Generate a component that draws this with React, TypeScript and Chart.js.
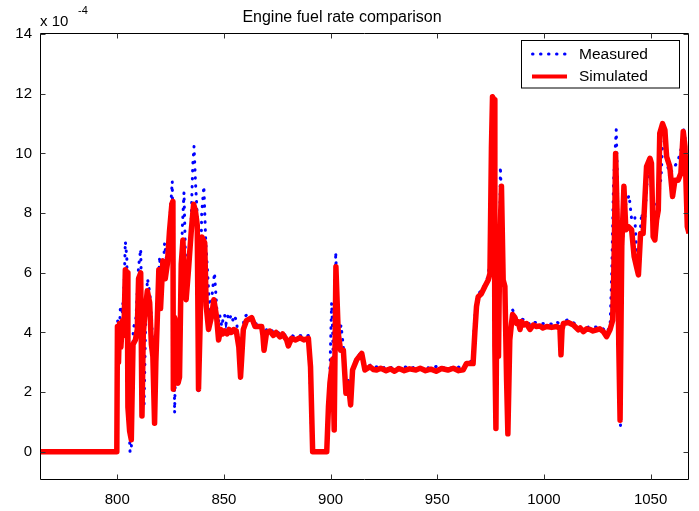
import React, { useEffect, useRef } from "react";
import { Chart, registerables } from "chart.js";

Chart.register(...registerables);

const chartTitle = "Engine fuel rate comparison";
const seriesNames = ["Measured", "Simulated"];
const yExponent = "-4";
const xTicks = [800, 850, 900, 950, 1000, 1050];
const yTicks = [0, 2, 4, 6, 8, 10, 12, 14];
const xRange = [763.8, 1068];
const yRange = [-0.93, 14.05];

// time (s) and fuel rate (x 10^-4) of the measured signal
const measTime = [
  764, 799.8, 800.2, 800.8, 801.5, 802.3, 803.2, 803.8, 804.5, 805.0, 806.0, 806.6, 807.5, 808.8, 810.0,
  811.0, 811.8, 812.6, 813.5, 814.2, 815.3, 816.2, 817.5, 818.3, 819.2, 819.9, 820.6, 821.5, 822.2, 823.5,
  824.5, 825.8, 826.3, 826.9, 827.7, 828.8, 829.5, 830.5, 831.3, 832.0, 833.0, 834.5, 835.4, 836.0, 836.7,
  837.6, 838.1, 838.9, 839.6, 840.6, 841.5, 842.3, 843.5, 844.8, 845.6, 846.3, 847.2, 848.0, 849.0, 849.5,
  850.3, 851.0, 851.8, 852.5, 853.4, 854.5, 855.3, 856.0, 857.2, 857.8, 858.5, 859.4, 860.8, 862.7, 864.6,
  867.7, 868.6, 870.0, 871.5, 873.2, 874.5, 876.3, 877.5, 879.4, 880.2, 881.7, 883.5, 885.7, 887.5, 889.6,
  890.6, 891.2, 898.5, 899.2, 899.8, 900.5, 901.0, 901.6, 902.4, 903.2, 904.0, 904.9, 906.0, 907.2, 908.3,
  909.4, 910.3, 912.2, 914.6, 916.1, 918.5, 920.0, 921.6, 923.5, 926, 928, 930, 932, 934.5, 937,
  940, 942, 944.5, 947, 949.5, 952, 955, 957.5, 960, 962.2, 963.7, 966.8, 967.3, 968.2, 969.2,
  970.7, 972.3, 973.9, 974.6, 975.2, 975.6, 976.4, 976.9, 977.4, 978.0, 978.8, 979.6, 980.3, 980.9, 981.7,
  982.6, 983.3, 984.0, 984.8, 985.3, 986.4, 987.2, 988.8, 989.5, 991.9, 993.5, 995.0, 998.1, 1001.3, 1003.6,
  1006.0, 1007.5, 1008.0, 1008.5, 1009.1, 1011.4, 1013.8, 1016.1, 1018.5, 1021.6, 1024.7, 1027.8, 1029.4, 1031.0, 1031.8,
  1032.6, 1033.9, 1034.5, 1035.1, 1035.9, 1036.6, 1037.5, 1038.4, 1039.9, 1041.1, 1042.6, 1043.5, 1044.5, 1045.8, 1047.0,
  1048.3, 1049.7, 1050.6, 1051.2, 1052.3, 1052.8, 1053.6, 1054.9, 1055.6, 1057.0, 1057.5, 1059.0, 1060.3, 1061.6, 1063.0,
  1064.6, 1065.3, 1066.1, 1067.2, 1068,
];
const measValue = [
  0, 0, 4.4, 3.5, 4.9, 4.6, 5.5, 7.05, 6.5, 2.0, 0, 0, 4.1, 4.5, 6.2,
  6.8, 3.5, 1.6, 5.0, 5.8, 5.3, 4.3, 1.8, 3.5, 5.5, 6.55, 5.2, 6.0, 7.0, 6.2,
  7.6, 9.07, 6.0, 1.3, 4.3, 2.6, 4.0, 7.5, 8.7, 6.5, 6.0, 7.4, 9.6, 10.24, 9.0,
  7.8, 2.0, 5.0, 8.0, 8.9, 7.0, 6.1, 4.5, 5.5, 6.0, 5.2, 4.2, 4.6, 4.2, 4.4,
  4.6, 4.3, 4.55, 4.4, 4.6, 4.35, 4.5, 4.35, 3.3, 2.8, 3.5, 4.5, 4.6, 4.6, 4.3,
  4.25, 3.6, 4.1, 4.15, 4.0, 4.05, 3.95, 4.0, 3.85, 3.7, 3.9, 3.85, 3.9, 3.85, 3.9,
  2.0, 0, 0, 1.8, 3.0, 5.0, 4.0, 1.5, 6.7, 5.0, 3.8, 4.25, 3.5, 2.0, 2.4,
  1.8, 2.8, 3.15, 3.35, 2.85, 2.9, 2.8, 2.85, 2.78, 2.85, 2.8, 2.88, 2.8, 2.86, 2.78,
  2.85, 2.8, 2.84, 2.79, 2.86, 2.8, 2.85, 2.78, 2.84, 2.8, 3.0, 3.05, 4.2, 5.0, 5.3,
  5.4, 5.6, 5.9, 6.4, 10.0, 11.9, 11.2, 4.0, 1.0, 5.5, 4.0, 9.56, 8.0, 6.0, 5.6,
  3.0, 0.8, 3.8, 4.5, 4.76, 4.6, 4.4, 4.25, 4.45, 4.4, 4.25, 4.35, 4.3, 4.3, 4.28,
  4.37, 4.25, 3.5, 4.2, 4.4, 4.42, 4.33, 4.2, 4.12, 4.2, 4.18, 4.12, 4.0, 4.2, 6.0,
  9.0, 10.8, 9.0, 4.0, 0.84, 6.5, 8.0, 8.3, 8.6, 7.8, 7.9, 6.5, 6.8, 8.0, 7.5,
  9.0, 9.6, 8.5, 7.8, 7.4, 8.3, 8.5, 9.2, 10.3, 10.5, 9.8, 9.2, 9.5, 9.6, 9.8,
  10.23, 10.85, 10.6, 8.0, 7.8,
];

// time (s) and fuel rate (x 10^-4) of the simulated signal
const simTime = [
  764, 799.8, 800.1, 800.6, 801.1, 801.7, 802.5, 803.1, 803.8, 804.7, 805.0, 805.8, 806.6, 807.4, 808.5,
  809.4, 810.0, 811.0, 811.6, 812.2, 812.8, 814.1, 815.2, 816.0, 816.7, 817.5, 818.1, 818.8, 819.5, 820.3,
  821.4, 822.5, 823.5, 824.5, 825.6, 826.1, 826.3, 826.9, 827.7, 828.5, 829.2, 830.0, 830.8, 831.6, 832.3,
  833.4, 834.7, 835.8, 836.6, 837.5, 838.1, 838.8, 839.7, 841.0, 841.7, 842.8, 844.1, 845.3, 846.6, 847.5,
  848.5, 849.4, 850.3, 851.5, 852.4, 853.5, 854.6, 855.8, 857.0, 857.8, 858.3, 859.1, 860.6, 863.0, 864.6,
  867.7, 868.3, 868.8, 870.0, 871.5, 873.2, 874.5, 876.3, 877.5, 879.4, 880.2, 881.7, 883.5, 885.7, 887.5,
  889.6, 890.6, 891.6, 898.2, 899.0, 899.7, 901.0, 901.7, 902.5, 903.6, 904.7, 906.0, 907.2, 908.3, 909.4,
  910.3, 912.2, 914.6, 916.1, 918.5, 920.0, 921.6, 923.5, 926, 928, 930, 932, 934.5, 937, 940,
  942, 944.5, 947, 949.5, 952, 955, 957.5, 960, 962.2, 963.7, 966.8, 967.6, 968.4, 969.2, 970.7,
  972.3, 973.9, 974.7, 975.4, 975.9, 976.7, 977.0, 977.5, 978.1, 978.7, 979.3, 980.1, 980.9, 981.7, 982.5,
  983.1, 984.0, 984.8, 985.3, 986.4, 987.2, 988.0, 988.8, 989.5, 990.5, 991.9, 992.6, 993.5, 995.0, 996.5,
  998.1, 999.5, 1001.3, 1003.6, 1006.0, 1007.5, 1008.0, 1008.5, 1009.1, 1011.4, 1013.8, 1016.1, 1017.0, 1018.5, 1020.0,
  1021.6, 1023.0, 1024.7, 1026.2, 1027.8, 1029.4, 1031.0, 1032.2, 1032.6, 1033.0, 1033.6, 1034.3, 1035.1, 1035.7, 1036.5,
  1037.5, 1038.4, 1039.5, 1041.1, 1042.3, 1043.4, 1044.3, 1045.3, 1046.5, 1048.1, 1049.7, 1050.4, 1051.2, 1052.0, 1052.8,
  1053.6, 1054.3, 1055.6, 1056.7, 1057.5, 1059.0, 1060.3, 1061.4, 1062.9, 1064.2, 1065.3, 1066.1, 1067.2, 1068,
];
const simValue = [
  0, 0, 4.2, 3.0, 4.3, 3.5, 4.4, 3.9, 6.1, 6.0, 1.5, 0.7, 0.4, 3.6, 3.75,
  4.1, 5.8, 6.0, 1.2, 3.9, 4.5, 5.4, 5.0, 3.6, 3.2, 0.96, 3.0, 4.5, 6.1, 4.8,
  6.4, 5.8, 6.3, 7.4, 8.3, 8.4, 2.1, 4.5, 4.2, 2.3, 2.5, 6.3, 7.1, 5.5, 5.1,
  6.1, 7.4, 8.3, 8.1, 7.6, 2.1, 4.1, 7.2, 7.0, 4.9, 4.1, 4.5, 5.1, 4.5, 3.75,
  4.1, 3.95, 4.05, 3.95, 4.1, 4.0, 4.1, 4.05, 3.5, 2.5, 3.1, 4.1, 4.4, 4.5, 4.2,
  4.2, 3.9, 3.4, 4.0, 4.05, 3.9, 4.0, 3.85, 3.95, 3.75, 3.55, 3.8, 3.75, 3.82, 3.75,
  3.8, 2.85, 0, 0, 1.5, 2.3, 3.1, 0.73, 6.2, 3.97, 3.4, 3.4, 1.96, 2.3, 1.57,
  2.74, 3.08, 3.3, 2.74, 2.85, 2.76, 2.74, 2.8, 2.72, 2.78, 2.7, 2.79, 2.72, 2.78, 2.74,
  2.8, 2.72, 2.77, 2.7, 2.79, 2.74, 2.8, 2.72, 2.75, 2.96, 2.96, 3.97, 4.87, 5.2, 5.3,
  5.54, 5.76, 5.98, 10.2, 11.9, 11.8, 3.52, 0.78, 6.9, 3.2, 6.9, 8.9, 5.76, 5.54, 2.4,
  0.6, 3.75, 4.3, 4.6, 4.5, 4.3, 4.35, 4.1, 4.37, 4.25, 4.3, 4.2, 4.1, 4.25, 4.2,
  4.22, 4.15, 4.2, 4.17, 4.2, 4.14, 3.25, 4.1, 4.3, 4.33, 4.25, 4.09, 4.15, 4.03, 4.12,
  4.1, 4.05, 4.09, 4.12, 4.03, 3.86, 4.1, 4.4, 5.5, 6.9, 10.0, 8.0, 3.52, 1.06, 6.9,
  8.9, 7.44, 7.55, 7.44, 6.54, 6.2, 5.93, 7.32, 7.32, 9.56, 9.84, 9.67, 7.21, 7.1, 7.77,
  8.1, 10.68, 11.0, 10.79, 9.9, 9.56, 8.56, 9.1, 9.1, 9.34, 10.74, 10.23, 7.55, 7.32,
];

const FONT = '"Liberation Sans", Arial, Helvetica, sans-serif';
const BLUE = "#0000ff";
const RED = "#ff0000";
const DOTS = [0.5, 7.5];

const framePlugin = {
  id: "matlabFrame",
  afterDatasetsDraw(chart: any) {
    const { ctx, chartArea } = chart;
    const { left, right, top, bottom } = chartArea;
    const xs = chart.scales.x;
    const ys = chart.scales.y;
    ctx.save();
    ctx.strokeStyle = "#000";
    ctx.lineWidth = 1;
    ctx.setLineDash([]);
    ctx.beginPath();
    const L = Math.round(left) + 0.5;
    const R = Math.round(right) - 0.5;
    const T = Math.round(top) + 0.5;
    const B = Math.round(bottom) - 0.5;
    ctx.rect(L, T, R - L, B - T);
    ctx.stroke();
    ctx.strokeStyle = "#333";
    ctx.beginPath();
    for (const v of xTicks) {
      const px = Math.round(xs.getPixelForValue(v)) + 0.5;
      ctx.moveTo(px, B);
      ctx.lineTo(px, B - 5);
      ctx.moveTo(px, T);
      ctx.lineTo(px, T + 5);
    }
    for (const v of yTicks) {
      const py = Math.round(ys.getPixelForValue(v)) + 0.5;
      ctx.moveTo(L, py);
      ctx.lineTo(L + 5, py);
      ctx.moveTo(R, py);
      ctx.lineTo(R - 5, py);
    }
    ctx.stroke();

    // legend
    const bx = 521.5, by = 40.5, bw = 158, bh = 47.5;
    ctx.fillStyle = "#fff";
    ctx.fillRect(bx, by, bw, bh);
    ctx.strokeStyle = "#000";
    ctx.lineWidth = 1;
    ctx.strokeRect(bx, by, bw, bh);
    const rows = [54, 76.5];
    const styles = chart.data.datasets;
    ctx.lineCap = "round";
    ctx.strokeStyle = BLUE;
    ctx.lineWidth = 3;
    ctx.setLineDash(DOTS);
    ctx.beginPath();
    ctx.moveTo(532.5, rows[0]);
    ctx.lineTo(567, rows[0]);
    ctx.stroke();
    ctx.setLineDash([]);
    ctx.lineCap = "butt";
    ctx.strokeStyle = RED;
    ctx.lineWidth = 4;
    ctx.beginPath();
    ctx.moveTo(532, rows[1]);
    ctx.lineTo(567, rows[1]);
    ctx.stroke();
    ctx.fillStyle = "#000";
    ctx.font = "15.5px " + FONT;
    ctx.textAlign = "left";
    ctx.textBaseline = "middle";
    ctx.fillText(styles[0].label, 579, rows[0] + 0.5);
    ctx.fillText(styles[1].label, 579, rows[1] + 0.5);

    // title and exponent
    ctx.textBaseline = "alphabetic";
    ctx.textAlign = "center";
    ctx.font = "16px " + FONT;
    ctx.fillText(chartTitle, 342, 21.7);
    ctx.textAlign = "left";
    ctx.font = "15px " + FONT;
    ctx.fillText("x 10", 40, 26);
    ctx.font = "11px " + FONT;
    ctx.fillText(yExponent, 78, 13.5);
    ctx.restore();
  },
};

export default function App() {
  const ref = useRef<HTMLCanvasElement | null>(null);
  useEffect(() => {
    if (!ref.current) return;
    const measured = measTime.map((t, i) => ({ x: t, y: measValue[i] }));
    const simulated = simTime.map((t, i) => ({ x: t, y: simValue[i] }));
    const chart = new Chart(ref.current, {
      type: "line",
      data: {
        datasets: [
          {
            label: seriesNames[0],
            data: measured,
            borderColor: BLUE,
            borderWidth: 3,
            borderDash: DOTS,
            borderCapStyle: "round",
            pointRadius: 0,
            tension: 0,
            fill: false,
            order: 2,
          },
          {
            label: seriesNames[1],
            data: simulated,
            borderColor: RED,
            borderWidth: 5.5,
            borderJoinStyle: "round",
            pointRadius: 0,
            tension: 0,
            fill: false,
            order: 1,
          },
        ],
      },
      options: {
        responsive: false,
        animation: false,
        devicePixelRatio: 1,
        layout: { padding: { left: 0, right: 10, top: 32.7, bottom: 0 } },
        plugins: {
          legend: { display: false },
          title: { display: false },
          tooltip: { enabled: false },
        },
        scales: {
          x: {
            type: "linear",
            min: xRange[0],
            max: xRange[1],
            grid: { display: false, drawTicks: false },
            border: { display: false },
            afterBuildTicks: (s: any) => {
              s.ticks = xTicks.map((v) => ({ value: v }));
            },
            afterFit: (s: any) => {
              s.height = 31.5;
            },
            ticks: {
              color: "#000",
              font: { family: FONT, size: 15 },
              padding: 11,
              maxRotation: 0,
              autoSkip: false,
              callback: (v: any) => String(v),
            },
          },
          y: {
            type: "linear",
            min: yRange[0],
            max: yRange[1],
            grid: { display: false, drawTicks: false },
            border: { display: false },
            afterBuildTicks: (s: any) => {
              s.ticks = yTicks.map((v) => ({ value: v }));
            },
            afterFit: (s: any) => {
              s.width = 40;
            },
            ticks: {
              color: "#000",
              font: { family: FONT, size: 15 },
              padding: 8,
              autoSkip: false,
              callback: (v: any) => String(v),
            },
          },
        },
      },
      plugins: [framePlugin],
    });
    return () => chart.destroy();
  }, []);
  return (
    <div style={{ position: "fixed", left: 0, top: 0, width: 699, height: 511, background: "#fff" }}>
      <canvas ref={ref} width={699} height={511} style={{ display: "block", width: 699, height: 511 }} />
    </div>
  );
}
